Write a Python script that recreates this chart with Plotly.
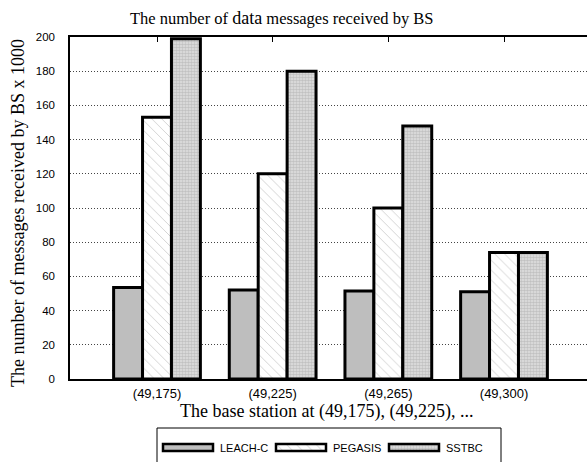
import plotly.graph_objects as go

# Data: messages received by the base station (x 1000)
stations = ["(49,175)", "(49,225)", "(49,265)", "(49,300)"]
leach_c = [53.5, 52, 51.5, 51]
pegasis = [153, 120, 100, 74]
sstbc = [199, 180, 148, 74]
series_names = ["LEACH-C", "PEGASIS", "SSTBC"]
series_values = [leach_c, pegasis, sstbc]
y_ticks = list(range(0, 201, 20))

# Figure geometry (pixels)
W, H = 587, 462
L, T = 70, 37
PW, PH = W - L, H - T          # plot area with r=0, b=0
AXIS_BOTTOM = 379              # pixel row of the value axis zero line


def px_y(p):
    return (H - p) / PH


def px_x(p):
    return (p - L) / PW


SERIF = "Liberation Serif, Times New Roman, serif"
SANS = "Liberation Sans, Arial, Helvetica, sans-serif"

styles = {
    "LEACH-C": dict(color="#bebebe"),
    "PEGASIS": dict(color="white",
                    pattern=dict(shape="\\", fgcolor="#a8a8a8", bgcolor="white",
                                 size=7, solidity=0.14)),
    "SSTBC": dict(color="#d0d0d0",
                  pattern=dict(shape=".", fgcolor="#a0a0a0", bgcolor="#e2e2e2",
                               size=3, solidity=0.6)),
}

fig = go.Figure()

for name, vals in zip(series_names, series_values):
    fig.add_trace(go.Bar(
        x=list(range(len(stations))), y=vals, name=name,
        marker=dict(**styles[name], line=dict(color="black", width=3)),
        showlegend=False, xaxis="x", yaxis="y",
    ))

# Legend row drawn on its own pixel-scaled axes below the chart
LEG_X0, LEG_COL, SW_W, SW_H, LEG_Y = 163, 113, 50, 7, 447.5
for i, name in enumerate(series_names):
    fig.add_trace(go.Bar(
        y=[LEG_Y], x=[SW_W], base=[LEG_X0 + i * LEG_COL], orientation="h",
        width=[SW_H], offset=-SW_H / 2,
        marker=dict(**styles[name], line=dict(color="black", width=2.5)),
        showlegend=False, xaxis="x2", yaxis="y2", hoverinfo="skip",
    ))

annotations = [
    dict(text='The number of <span style="font-size:18px">data</span> messages received by BS',
         xref="paper", yref="paper", x=px_x(282), y=px_y(18),
         xanchor="center", yanchor="middle", showarrow=False,
         font=dict(family=SERIF, size=16.5, color="black")),
    dict(text="The number of messages received by BS x 1000",
         xref="paper", yref="paper", x=px_x(18), y=px_y(213),
         xanchor="center", yanchor="middle", showarrow=False, textangle=-90,
         font=dict(family=SERIF, size=18, color="black")),
    dict(text="The base station at (49,175), (49,225), ...",
         xref="paper", yref="paper", x=px_x(326), y=px_y(411),
         xanchor="center", yanchor="middle", showarrow=False,
         font=dict(family=SERIF, size=18, color="black")),
]
for i, name in enumerate(series_names):
    annotations.append(dict(
        text=name, xref="x2", yref="y2", x=LEG_X0 + i * LEG_COL + SW_W + 5, y=LEG_Y,
        xanchor="left", yanchor="middle", showarrow=False,
        font=dict(family=SANS, size=11, color="black")))

spacing = 115.67
x0 = -(157 - L) / spacing
x1 = x0 + PW / spacing

fig.update_layout(
    width=W, height=H,
    margin=dict(l=L, r=0, t=T, b=0, pad=0),
    paper_bgcolor="white", plot_bgcolor="white",
    barmode="group", bargap=0.25, bargroupgap=0,
    annotations=annotations,
    shapes=[dict(type="rect", xref="x2", yref="y2", x0=157, x1=501, y0=428, y1=480,
                 line=dict(color="black", width=1), fillcolor="rgba(0,0,0,0)",
                 layer="below")],
    xaxis=dict(
        domain=[0, 1], anchor="y", range=[x0, x1],
        tickmode="array", tickvals=list(range(len(stations))), ticktext=stations,
        tickfont=dict(family=SANS, size=13, color="black"),
        ticks="inside", ticklen=5, tickcolor="black", mirror="ticks",
        showline=True, linecolor="black", linewidth=1.5,
        showgrid=False, zeroline=False, automargin=False, layer="below traces",
        ticklabelstandoff=2,
    ),
    yaxis=dict(
        domain=[px_y(AXIS_BOTTOM), 1], anchor="x", range=[0, 200],
        tickmode="array", tickvals=y_ticks,
        tickfont=dict(family=SANS, size=11.5, color="black"),
        ticks="", showline=True, linecolor="black", linewidth=1.5,
        showgrid=True, gridcolor="#444444", griddash="1px,2px", gridwidth=1,
        zeroline=False, automargin=False, ticklabelstandoff=11,
    ),
    xaxis2=dict(domain=[0, 1], anchor="y2", range=[L, W], visible=False,
                showgrid=False, zeroline=False),
    yaxis2=dict(domain=[0, 36 / PH], anchor="x2", range=[H, H - 36], visible=False,
                showgrid=False, zeroline=False),
)

fig.write_html("out.html")
